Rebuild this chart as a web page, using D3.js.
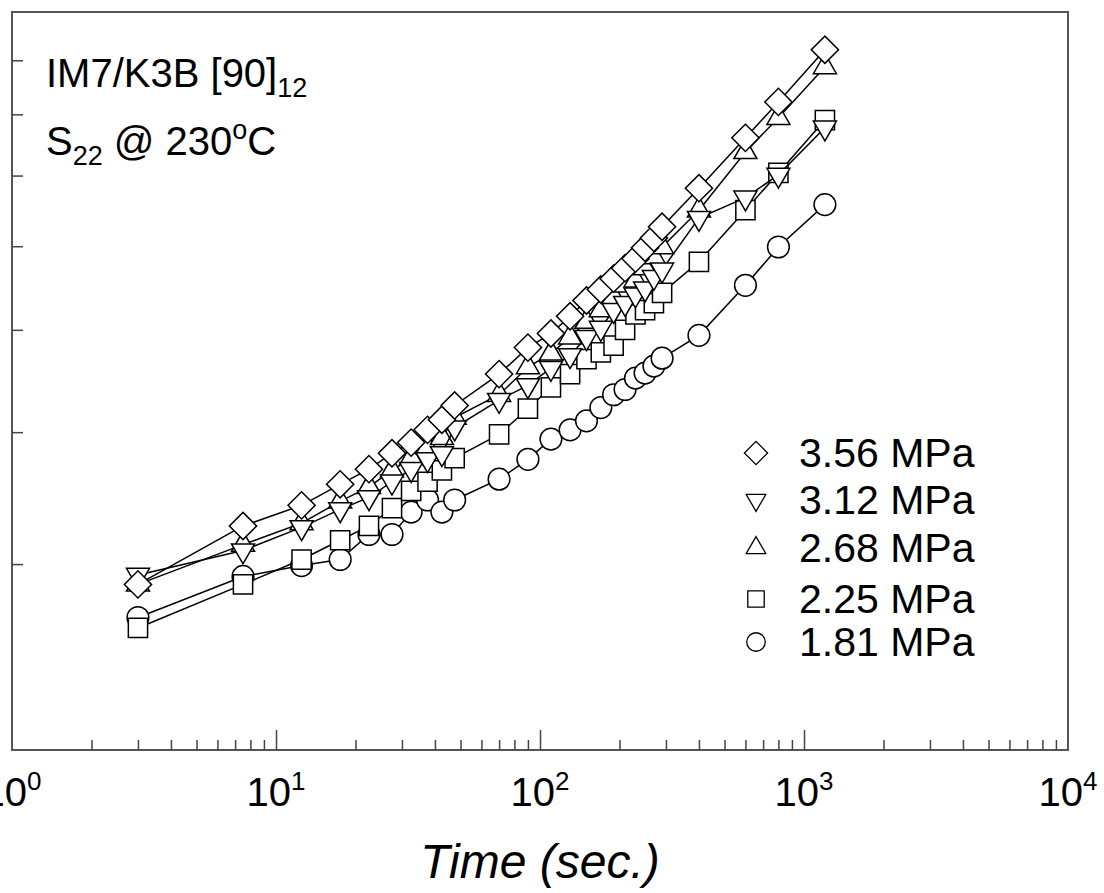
<!DOCTYPE html>
<html>
<head>
<meta charset="utf-8">
<script src="https://cdn.jsdelivr.net/npm/d3@7"></script>
<style>
  body { margin: 0; background: #fff; }
  svg { display: block; font-family: "Liberation Sans", Arial, sans-serif; }
</style>
</head>
<body>
<script>
// Time points (sec.) shared by every stress level
const times = [3, 7.5, 12.5, 17.5, 22.5, 27.5, 32.5, 37.5, 42.5, 47.5,
  70, 90, 110, 130, 150, 170, 190, 210, 230, 250, 270, 290, 400, 600, 800, 1200];

// Compliance, one array per stress level
const s356 = [2.87, 3.26, 3.41, 3.57, 3.69, 3.82, 3.91, 4.02, 4.11, 4.24,
  4.54, 4.81, 4.96, 5.15, 5.33, 5.46, 5.59, 5.72, 5.84, 5.98, 6.11, 6.26, 6.81, 7.60, 8.22, 9.21];
const s312 = [2.93, 3.09, 3.25, 3.38, 3.47, 3.59, 3.69, 3.77, 3.82, 4.04,
  4.29, 4.43, 4.60, 4.73, 4.92, 5.02, 5.22, 5.30, 5.40, 5.47, 5.61, 5.70, 6.38, 6.67, 7.01, 7.77];
const s268 = [2.87, 3.13, 3.28, 3.44, 3.55, 3.68, 3.78, 3.87, 3.95, 4.13,
  4.34, 4.61, 4.75, 4.92, 5.09, 5.22, 5.37, 5.51, 5.57, 5.72, 5.86, 5.99, 6.49, 7.37, 7.94, 8.87];
const s225 = [2.61, 2.87, 3.03, 3.16, 3.26, 3.39, 3.52, 3.59, 3.68, 3.78,
  3.98, 4.21, 4.41, 4.54, 4.69, 4.76, 4.83, 5.00, 5.17, 5.22, 5.30, 5.42, 5.80, 6.49, 7.04, 7.90];
const s181 = [2.67, 2.92, 2.99, 3.03, 3.20, 3.20, 3.36, 3.45, 3.36, 3.45,
  3.61, 3.77, 3.94, 4.02, 4.10, 4.22, 4.34, 4.39, 4.50, 4.55, 4.62, 4.70, 4.94, 5.51, 5.99, 6.57];

const labels = ["3.56 MPa", "3.12 MPa", "2.68 MPa", "2.25 MPa", "1.81 MPa"];
const shapes = ["diamond", "down", "up", "square", "circle"];
const seriesVals = [s356, s312, s268, s225, s181];

const xMajor = [1, 10, 100, 1000, 10000];
const xMinor = [];
[1, 10, 100, 1000].forEach(d => { for (let k = 2; k <= 9; k++) xMinor.push(d * k); });
const yTicks = [3, 4, 5, 6, 7, 8, 9];

var W = 1104, H = 893;
var plotL = 12, plotR = 1068, plotT = 12, plotB = 750;

var svg = d3.select("body").append("svg")
  .attr("width", W)
  .attr("height", H);

var x = d3.scaleLog().domain([1, 10000]).range([plotL, plotR]);
var y = d3.scaleLog().domain([2, 10]).range([plotB, plotT]);

// marker shapes
function symbolPath(shape, s) {
  if (shape == "diamond") return d3.symbol(d3.symbolSquare, s * 1.0)();
  if (shape == "square") return d3.symbol(d3.symbolSquare, s)();
  if (shape == "circle") return d3.symbol(d3.symbolCircle, s)();
  return d3.symbol(d3.symbolTriangle, s * 0.62)();
}
function symbolRotate(shape) {
  if (shape == "diamond") return 45;
  if (shape == "down") return 180;
  return 0;
}

// frame
svg.append("rect")
  .attr("x", plotL).attr("y", plotT)
  .attr("width", plotR - plotL).attr("height", plotB - plotT)
  .attr("fill", "none")
  .attr("stroke", "#555")
  .attr("stroke-width", 2);

// x axis ticks (inward)
var xAxisMajor = d3.axisBottom(x).tickValues(xMajor.slice(1, 4)).tickSizeInner(-20).tickSizeOuter(0).tickFormat("");
var xAxisMinor = d3.axisBottom(x).tickValues(xMinor).tickSizeInner(-10).tickSizeOuter(0).tickFormat("");
[xAxisMajor, xAxisMinor].forEach(ax => {
  var g = svg.append("g")
    .attr("transform", `translate(0,${plotB})`)
    .call(ax);
  g.select(".domain").remove();
  g.selectAll("line").attr("stroke", "#444").attr("stroke-width", 1.5);
});

// y axis ticks (inward, labels fall outside the picture)
var yAx = svg.append("g")
  .attr("transform", `translate(${plotL},0)`)
  .call(d3.axisLeft(y).tickValues(yTicks).tickSizeInner(-11).tickSizeOuter(0).tickFormat(""));
yAx.select(".domain").remove();
yAx.selectAll("line").attr("stroke", "#444").attr("stroke-width", 1.5);

// x tick labels with superscript exponent
xMajor.forEach((v, i) => {
  var t = svg.append("text")
    .attr("x", x(v))
    .attr("y", 806)
    .attr("text-anchor", "middle")
    .attr("font-size", 40)
    .attr("fill", "#000");
  t.append("tspan").text("10");
  t.append("tspan").attr("dy", -16).attr("font-size", 26).text(i);
});

// x axis title
svg.append("text")
  .attr("x", (plotL + plotR) / 2)
  .attr("y", 878)
  .attr("text-anchor", "middle")
  .attr("font-size", 48)
  .attr("font-style", "italic")
  .text("Time (sec.)");

// annotation
var a1 = svg.append("text").attr("x", 46).attr("y", 87).attr("font-size", 40);
a1.append("tspan").text("IM7/K3B [90]");
a1.append("tspan").attr("dy", 10).attr("font-size", 27).text("12");

var a2 = svg.append("text").attr("x", 46).attr("y", 155).attr("font-size", 40);
a2.append("tspan").text("S");
a2.append("tspan").attr("dy", 10).attr("font-size", 27).text("22");
a2.append("tspan").attr("dy", -10).text(" @ 230");
a2.append("tspan").attr("dy", -16).attr("font-size", 27).text("o");
a2.append("tspan").attr("dy", 16).text("C");

// series, drawn lowest stress first so the highest sits on top
var line = d3.line()
  .x(d => x(d[0]))
  .y(d => y(d[1]));

for (let k = seriesVals.length - 1; k >= 0; k--) {
  var pts = times.map((t, i) => [t, seriesVals[k][i]]);
  var g = svg.append("g").attr("class", "series");
  g.append("path")
    .datum(pts)
    .attr("d", line)
    .attr("fill", "none")
    .attr("stroke", "#000")
    .attr("stroke-width", 1.5);
  g.selectAll(".pt").data(pts)
    .enter().append("path")
    .attr("class", "pt")
    .attr("d", symbolPath(shapes[k], 370))
    .attr("transform", d => `translate(${x(d[0])},${y(d[1])}) rotate(${symbolRotate(shapes[k])})`)
    .attr("fill", "#fff")
    .attr("stroke", "#000")
    .attr("stroke-width", 1.5);
}

// legend
var legY = [453, 500, 548, 599, 642];
labels.forEach((lab, k) => {
  svg.append("path")
    .attr("d", symbolPath(shapes[k], 270))
    .attr("transform", `translate(756,${legY[k]}) rotate(${symbolRotate(shapes[k])})`)
    .attr("fill", "#fff")
    .attr("stroke", "#000")
    .attr("stroke-width", 1.3);
  svg.append("text")
    .attr("x", 799)
    .attr("y", legY[k] + 14)
    .attr("font-size", 41)
    .text(lab);
});
</script>
</body>
</html>
